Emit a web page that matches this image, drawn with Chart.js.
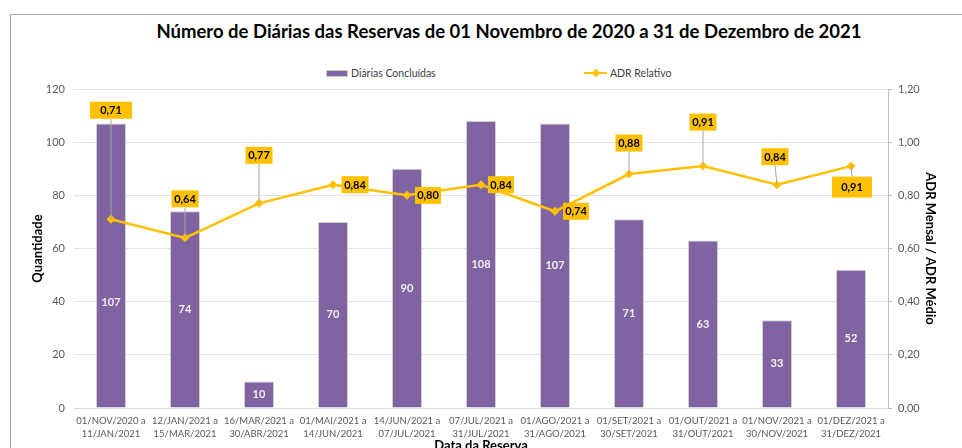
<!DOCTYPE html>
<html lang="pt">
<head>
<meta charset="utf-8">
<title>Número de Diárias das Reservas</title>
<script src="https://cdn.jsdelivr.net/npm/chart.js@4"></script>
<style>
  html, body { margin: 0; padding: 0; background: #fff; overflow: hidden; }
  body { width: 962px; height: 448px; position: relative; font-family: Lato, "Open Sans", sans-serif; }
  #frame { position: absolute; left: 10px; top: 14px; width: 990px; height: 480px;
           border-top: 1px solid #a6a6a6; border-left: 1px solid #a6a6a6; }
  #title { position: absolute; top: 20px; left: 509px; transform: translateX(-50%);
           white-space: nowrap; font-weight: bold; font-size: 18.5px; color: #000; }
  .legend-item { position: absolute; top: 66px; height: 14px; font-size: 10.5px; color: #404040;
                 line-height: 14px; white-space: nowrap; }
  .swatch-bar { display: inline-block; width: 20px; height: 5px; background: #8064a2;
                border: 1px solid #c9c9c9; vertical-align: middle; margin-right: 3px; position: relative; top: -1px; }
  .swatch-line { display: inline-block; width: 23px; height: 9px; position: relative;
                 vertical-align: middle; margin-right: 3px; top: -1px; }
  .swatch-line::before { content: ""; position: absolute; left: 0; right: 0; top: 3px; height: 2.5px; background: #ffc000; }
  .swatch-line::after { content: ""; position: absolute; left: 9px; top: 1px; width: 6px; height: 6px;
                        background: #ffc000; transform: rotate(45deg); }
  canvas { position: absolute; left: 0; top: 0; }
</style>
</head>
<body>
<div id="frame"></div>
<div id="title">Número de Diárias das Reservas de 01 Novembro de 2020 a 31 de Dezembro de 2021</div>
<div class="legend-item" style="left:326px"><span class="swatch-bar"></span>Diárias Concluídas</div>
<div class="legend-item" style="left:584px"><span class="swatch-line"></span>ADR Relativo</div>
<canvas id="chart" width="962" height="460"></canvas>
<script>
const periodos = [
  ["01/NOV/2020 a", "11/JAN/2021"],
  ["12/JAN/2021 a", "15/MAR/2021"],
  ["16/MAR/2021 a", "30/ABR/2021"],
  ["01/MAI/2021 a", "14/JUN/2021"],
  ["14/JUN/2021 a", "07/JUL/2021"],
  ["07/JUL/2021 a", "31/JUL/2021"],
  ["01/AGO/2021 a", "31/AGO/2021"],
  ["01/SET/2021 a", "30/SET/2021"],
  ["01/OUT/2021 a", "31/OUT/2021"],
  ["01/NOV/2021 a", "30/NOV/2021"],
  ["01/DEZ/2021 a", "31/DEZ/2021"]
];
const diariasConcluidas = [107, 74, 10, 70, 90, 108, 107, 71, 63, 33, 52];
const adrRelativo = [0.71, 0.64, 0.77, 0.84, 0.80, 0.84, 0.74, 0.88, 0.91, 0.84, 0.91];

const purple = "#8064a2";
const gold = "#ffc000";
const tickGrey = "#595959";

function formatDecimal(value) {
  return Number(value).toFixed(2).replace(".", ",");
}

// where each ADR callout sits relative to its point (dx, dy, box w/h)
const adrCallouts = [
  { dx: 0, dy: -109, w: 42, h: 17 },
  { dx: 0, dy: -39, w: 27, h: 17 },
  { dx: 0, dy: -48, w: 27, h: 17 },
  { dx: 22, dy: 0, w: 27, h: 17 },
  { dx: 21, dy: 0, w: 26, h: 17 },
  { dx: 20, dy: 0, w: 26, h: 17 },
  { dx: 21, dy: 0, w: 26, h: 17 },
  { dx: 0, dy: -31, w: 27, h: 17 },
  { dx: 0, dy: -44, w: 27, h: 17 },
  { dx: -2, dy: -28, w: 27, h: 17 },
  { dx: 1, dy: 21, w: 40, h: 21 }
];
const barLabelShift = [37, 0, 0, 0, 0, 0, 0, 0, 0, 0, 0];

const labelsPlugin = {
  id: "valueLabels",
  afterDatasetsDraw(chart) {
    const ctx = chart.ctx;
    ctx.save();
    ctx.font = "bold 11px Lato, 'Open Sans', sans-serif";
    ctx.textAlign = "center";
    ctx.textBaseline = "middle";

    // bar values, white in the middle of the bar
    chart.getDatasetMeta(0).data.forEach((bar, i) => {
      ctx.fillStyle = "#f2f2f2";
      ctx.fillText(String(diariasConcluidas[i]), bar.x, (bar.y + bar.base) / 2 + barLabelShift[i]);
    });

    // ADR callouts with leader lines
    chart.getDatasetMeta(1).data.forEach((pt, i) => {
      const c = adrCallouts[i];
      const cx = pt.x + c.dx;
      const cy = pt.y + c.dy;
      if (Math.abs(c.dy) > c.h / 2 + 4) {
        ctx.strokeStyle = "#a6a6a6";
        ctx.lineWidth = 1;
        ctx.beginPath();
        ctx.moveTo(cx, cy + (c.dy < 0 ? c.h / 2 : -c.h / 2));
        ctx.lineTo(pt.x, pt.y);
        ctx.stroke();
      }
      ctx.fillStyle = gold;
      ctx.fillRect(cx - c.w / 2, cy - c.h / 2, c.w, c.h);
      ctx.fillStyle = "#000";
      ctx.fillText(formatDecimal(adrRelativo[i]), cx, cy + 0.5);
    });
    ctx.restore();
  }
};

Chart.defaults.font.family = "Lato, 'Open Sans', sans-serif";

new Chart(document.getElementById("chart"), {
  data: {
    labels: periodos,
    datasets: [
      {
        type: "bar",
        label: "Diárias Concluídas",
        data: diariasConcluidas,
        backgroundColor: purple,
        borderColor: "#cfcfcf",
        borderWidth: 1,
        barPercentage: 0.9,
        categoryPercentage: 0.45,
        yAxisID: "y",
        order: 2
      },
      {
        type: "line",
        label: "ADR Relativo",
        data: adrRelativo,
        borderColor: gold,
        backgroundColor: gold,
        borderWidth: 2.5,
        pointStyle: "rectRot",
        pointRadius: 4.5,
        pointBorderWidth: 0,
        tension: 0,
        yAxisID: "y1",
        order: 1
      }
    ]
  },
  options: {
    responsive: false,
    animation: false,
    layout: { padding: { top: 89, left: 0, right: 0, bottom: 0 } },
    plugins: {
      legend: { display: false },
      title: { display: false },
      tooltip: { enabled: false }
    },
    scales: {
      x: {
        grid: { display: false, drawTicks: false },
        border: { display: true, color: "#d9d9d9" },
        ticks: {
          color: tickGrey,
          font: { size: 9.5, lineHeight: 1.37 },
          padding: 6,
          maxRotation: 0,
          autoSkip: false
        },
        title: {
          display: true,
          text: "Data da Reserva",
          color: "#000",
          font: { size: 13, weight: "bold" },
          padding: { top: 0, bottom: 6 }
        },
        afterFit(scale) { scale.height = 52; }
      },
      y: {
        position: "left",
        min: 0,
        max: 120,
        ticks: { stepSize: 20, color: tickGrey, font: { size: 11 }, padding: 9 },
        grid: { color: "#e3e3e3", drawTicks: false },
        border: { display: false },
        title: {
          display: true,
          text: "Quantidade",
          color: "#000",
          font: { size: 13, weight: "bold" },
          padding: { top: 30, bottom: 0 }
        },
        afterFit(scale) { scale.width = 74; }
      },
      y1: {
        position: "right",
        min: 0,
        max: 1.2,
        ticks: { stepSize: 0.2, color: tickGrey, font: { size: 11 }, padding: 6, callback: formatDecimal },
        grid: { drawOnChartArea: false, tickLength: 4, color: "#bfbfbf" },
        border: { display: true, color: "#bfbfbf" },
        title: {
          display: true,
          text: "ADR Mensal / ADR Médio",
          color: "#000",
          font: { size: 13, weight: "bold" },
          padding: { top: 24, bottom: 0 }
        },
        afterFit(scale) { scale.width = 74; }
      }
    }
  },
  plugins: [labelsPlugin]
});
</script>
</body>
</html>
